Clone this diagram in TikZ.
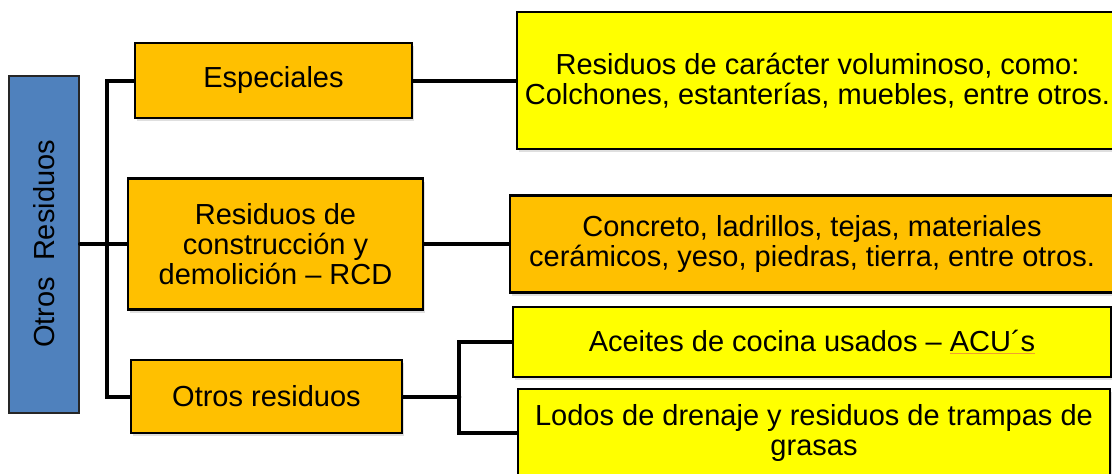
\documentclass[tikz,border=0pt]{standalone}
\usepackage{fontspec}
\setmainfont{Liberation Sans}
\usetikzlibrary{shadows}
\definecolor{naranja}{HTML}{FFC000}
\definecolor{amarillo}{HTML}{FFFF00}
\definecolor{azul}{HTML}{4F81BD}
\definecolor{subraya}{HTML}{F0A030}
\begin{document}
\begin{tikzpicture}[x=1pt,y=-1pt,
    caja/.style={draw=black, line width=2.5pt, align=center, inner sep=0pt,
      font=\fontsize{29}{30}\selectfont,
      drop shadow={shadow xshift=1.5pt, shadow yshift=-3pt, opacity=0.25}},
    raiz/.style={draw=black!85, fill=azul, line width=2pt, inner sep=0pt,
      font=\fontsize{29}{30}\selectfont},
    linea/.style={line width=4pt, black, line cap=round}]
	\useasboundingbox (0,0) rectangle (1112,474);

	% raiz
	\node [raiz, minimum width=70, minimum height=337] (otros) at (44,244) {};
	\node [rotate=90, font=\fontsize{29}{30}\selectfont] (otrostxt) at (44,244) {Otros\ \ Residuos};

	% segundo nivel
	\node [caja, fill=naranja, minimum width=277, minimum height=75] (esp) at (273.5,80.5) {Especiales};
	\node [caja, fill=naranja, minimum width=295, minimum height=131] (rcd) at (275.5,244) {Residuos de\\construcción y\\demolición -- RCD};
	\node [caja, fill=naranja, minimum width=271, minimum height=73] (otr) at (266.5,396.5) {Otros residuos};

	% tercer nivel
	\node [caja, fill=amarillo, minimum width=601, minimum height=137] (volum) at (817.5,80.5) {Residuos de carácter voluminoso, como:\\Colchones, estanterías, muebles, entre otros.};
	\node [caja, fill=naranja, minimum width=604, minimum height=97] (conc) at (812,244) {Concreto, ladrillos, tejas, materiales\\cerámicos, yeso, piedras, tierra, entre otros.};
	\node [caja, fill=amarillo, minimum width=598, minimum height=70] (acei) at (812,342) {Aceites de cocina usados -- {\color{subraya}\underline{\color{black}ACU´s}}};
	\node [caja, fill=amarillo, minimum width=592, minimum height=88] (lodos) at (814,433) {Lodos de drenaje y residuos de trampas de\\grasas};

	% conectores
	\coordinate (tr) at (107,244);
	\draw [linea] (otros.east) -- (rcd.west);
	\draw [linea] (esp.west) -| (tr) |- (otr.west);
	\draw [linea] (esp.east) -- (volum.west);
	\draw [linea] (rcd.east) -- (conc.west);
	\draw [linea] (otr.east) -- ++(56,0) coordinate (sp);
	\draw [linea] (acei.west) -| (sp) |- (lodos.west);
\end{tikzpicture}
\end{document}
